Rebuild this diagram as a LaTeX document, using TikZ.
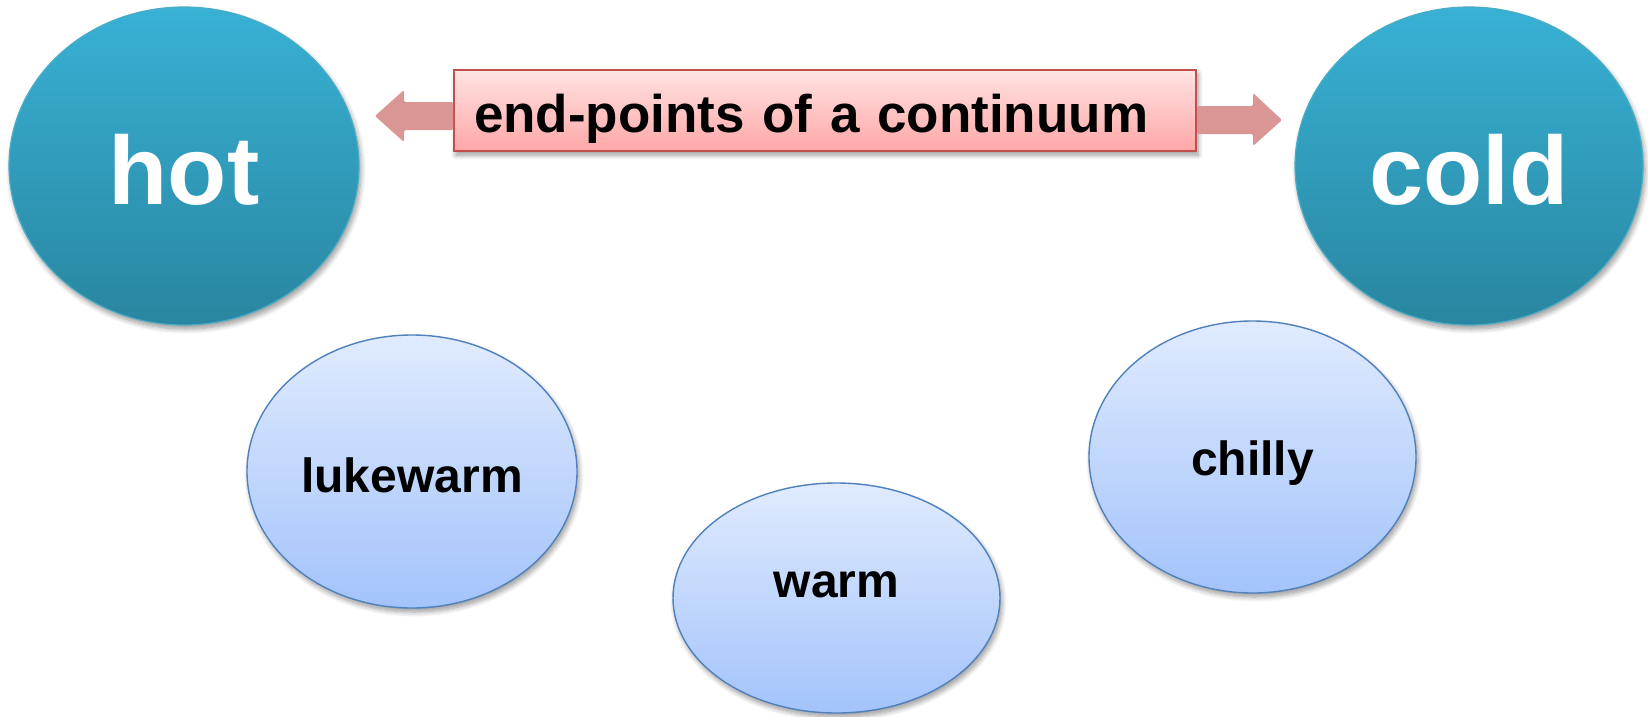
\documentclass[tikz,border=0pt]{standalone}
\usepackage{fontspec}
\setmainfont{Liberation Sans}
\usetikzlibrary{shapes.geometric,shadows.blur}

\definecolor{tealtop}{HTML}{38B1D5}
\definecolor{tealbot}{HTML}{2986A0}
\definecolor{tealline}{HTML}{4BACC6}
\definecolor{skytop}{HTML}{E0EBFE}
\definecolor{skybot}{HTML}{A3C3FB}
\definecolor{skyline}{HTML}{4F81BD}
\definecolor{rosetop}{HTML}{FFE3E3}
\definecolor{rosebot}{HTML}{FFA7A7}
\definecolor{roseline}{HTML}{C0504D}
\definecolor{arrowpink}{HTML}{D99694}

\begin{document}
\begin{tikzpicture}[x=1pt,y=-1pt,
  softshadow/.style={blur shadow={shadow xshift=2pt,shadow yshift=-4pt,
      shadow blur radius=5pt,shadow blur steps=8}},
  pole/.style={ellipse, inner sep=0pt, draw=tealline, line width=1.2pt,
      top color=tealtop, bottom color=tealbot, text=white,
      font=\fontsize{97}{100}\selectfont\bfseries, softshadow},
  grade/.style={ellipse, inner sep=0pt, draw=skyline, line width=1.4pt,
      top color=skytop, bottom color=skybot, text=black,
      font=\fontsize{48}{53}\selectfont\bfseries, softshadow},
  rosebox/.style={rectangle, draw=roseline, line width=1.8pt,
      top color=rosetop, bottom color=rosebot, text=black,
      font=\fontsize{53}{57}\selectfont\bfseries, softshadow},
  blockarrow/.style={fill=arrowpink, rounded corners=1.5pt}]

\useasboundingbox (0,0) rectangle (1648,716);

% the two end-points
\node[pole, minimum width=350pt, minimum height=318pt,
      text height=76pt, text depth=0pt] (hot) at (184,166) {hot};
\node[pole, minimum width=348pt, minimum height=318pt,
      text height=76pt, text depth=0pt] (cold) at (1469,166) {cold};

% intermediate values
\node[grade, minimum width=330pt, minimum height=273pt,
      text height=42pt, text depth=0pt] (lukewarm) at (412,471.5) {lukewarm};
\node[grade, minimum width=327pt, minimum height=230pt,
      text height=34pt, text depth=36pt] (warm) at (836.5,598) {warm};
\node[grade, minimum width=327pt, minimum height=272pt,
      text height=36pt, text depth=0pt] (chilly) at (1252.5,457) {chilly};

% caption band
\node[rosebox, minimum width=742pt, minimum height=81pt, text width=702pt,
      inner xsep=20pt, inner ysep=0pt, align=left,
      text height=44pt, text depth=0pt] (band) at (825,110.5)
      {end-points of a continuum};

% block arrows pointing at both ends
\path[blockarrow] (453,102) -- (404,102) -- (404,90) -- (375,116)
      -- (404,142) -- (404,130) -- (453,130) -- cycle;
\path[blockarrow] (1197,106) -- (1253,106) -- (1253,93) -- (1282,120)
      -- (1253,146) -- (1253,134) -- (1197,134) -- cycle;
\end{tikzpicture}
\end{document}
